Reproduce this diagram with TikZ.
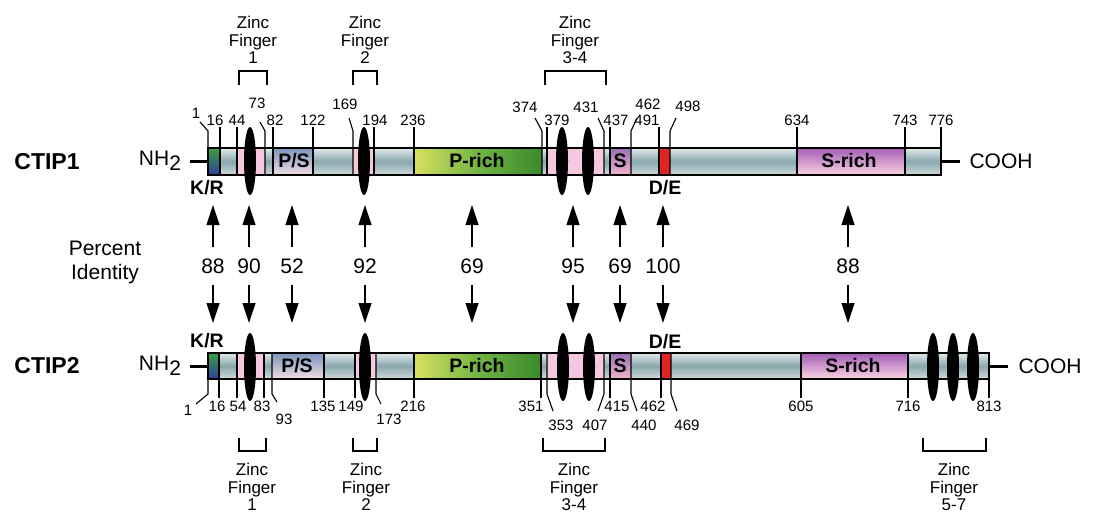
\documentclass[tikz,border=0pt]{standalone}
\usepackage{fontspec}
\setmainfont{Liberation Sans}
\usetikzlibrary{arrows.meta,shapes.geometric}

\definecolor{bartop}{HTML}{E2EAEB}
\definecolor{barmid}{HTML}{89A7AC}
\definecolor{barbot}{HTML}{CFDBDD}
\definecolor{zfpink}{HTML}{F6C8DF}
\definecolor{pstop}{HTML}{7B94BC}
\definecolor{psbot}{HTML}{F2DCE6}
\definecolor{sboxtop}{HTML}{9670B4}
\definecolor{sboxbot}{HTML}{F3B4CE}
\definecolor{srtop}{HTML}{A45DB6}
\definecolor{srbot}{HTML}{FBD3E2}
\definecolor{prleft}{HTML}{D8E060}
\definecolor{prmid}{HTML}{72B444}
\definecolor{prright}{HTML}{3A8A2C}
\definecolor{krtop}{HTML}{38A040}
\definecolor{krbot}{HTML}{2C3F9E}
\definecolor{dered}{HTML}{E32424}

\begin{document}
\begin{tikzpicture}[x=1pt,y=-1pt,
    tick/.style={line width=1.1pt},
    num/.style={font=\fontsize{15}{15}\selectfont,inner sep=0pt},
    dom/.style={font=\fontsize{19.5}{20}\selectfont\bfseries,inner sep=0pt},
    pid/.style={font=\fontsize{21}{24}\selectfont,inner sep=0pt,align=center},
    zftext/.style={font=\fontsize{17}{17.5}\selectfont,inner sep=0pt,align=center},
    zf/.style={ellipse,fill=black,minimum width=12pt,minimum height=68pt,inner sep=0pt},
    idarrow/.style={line width=1.2pt,-{Triangle[length=20pt,width=13pt]},shorten <=11pt},
    greybar/.style={top color=bartop,bottom color=barbot,middle color=barmid},
    psbox/.style={top color=pstop,bottom color=psbot},
    sbox/.style={top color=sboxtop,bottom color=sboxbot},
    srich/.style={top color=srtop,bottom color=srbot},
    prich/.style={left color=prleft,right color=prright,middle color=prmid},
    krbox/.style={top color=krtop,bottom color=krbot}]
\useasboundingbox (0,0) rectangle (1094,514);

\node[font=\fontsize{23}{23}\selectfont\bfseries] (ctip1) at (47,162) {CTIP1};
\node[font=\fontsize{23}{23}\selectfont\bfseries] (ctip2) at (47,366) {CTIP2};
\node[font=\fontsize{21}{21}\selectfont] (nh1) at (160,161) {NH\raisebox{-0.45ex}{2}};
\node[font=\fontsize{21}{21}\selectfont] (nh2) at (160,366) {NH\raisebox{-0.45ex}{2}};
\node[font=\fontsize{21}{21}\selectfont] (cooh1) at (1001,161) {COOH};
\node[font=\fontsize{21}{21}\selectfont] (cooh2) at (1050,366) {COOH};
\draw[line width=3pt] (190,161) -- (208,161);
\draw[line width=3pt] (941,161) -- (960,161);
\draw[line width=3pt] (190,366) -- (208,366);
\draw[line width=3pt] (989,366) -- (1008,366);

\shade[greybar] (208,148) rectangle (941,175);
\shade[krbox] (208,148) rectangle (220,175);
\fill[zfpink] (237,148) rectangle (265,175);
\shade[psbox] (273,148) rectangle (313,175);
\fill[zfpink] (353,148) rectangle (374,175);
\shade[prich] (414,148) rectangle (542,175);
\fill[zfpink] (547,148) rectangle (604,175);
\shade[sbox] (610,148) rectangle (631,175);
\fill[dered] (659,148) rectangle (670,175);
\shade[srich] (797,148) rectangle (905,175);
\draw[line width=1.6pt] (208,148) rectangle (941,175);

\foreach \x/\lx/\t in {220/215/16,237/237/44,273/275/82,313/313/122,374/375/194,414/413/236,547/557/379,
    610/616/437,659/647/491,797/797/634,905/905/743,941/941/776}{
  \draw[tick] (\x,175) -- (\x,127);
  \node[num,above] (u\t) at (\lx,126) {\t};
}
\foreach \x/\e/\ey/\lx/\ly/\t in {208/200/122/196/113/1,265/260/122/257/103/73,353/349/118/345/104/169,
    542/535/118/525/107/374,604/598/118/586/107/431,631/637/118/648/104/462,670/676/118/688/106/498}{
  \draw[tick] (\x,175) -- (\x,131) -- (\e,\ey);
  \node[num] (u\t) at (\lx,\ly) {\t};
}

\node[zf] (za1) at (250,161) {};
\node[zf] (za2) at (364,161) {};
\node[zf] (za3) at (562,161) {};
\node[zf] (za4) at (588,161) {};

\node[dom] (ps1) at (294,161) {P/S};
\node[dom] (pr1) at (477,161) {P-rich};
\node[dom] (s1) at (620,161) {S};
\node[dom] (sr1) at (849,161) {S-rich};
\node[dom] (kr1) at (207,188) {K/R};
\node[dom] (de1) at (665,188) {D/E};

\shade[greybar] (208,353) rectangle (989,379);
\shade[krbox] (208,353) rectangle (219,379);
\fill[zfpink] (237,353) rectangle (264,379);
\shade[psbox] (272,353) rectangle (324,379);
\fill[zfpink] (355,353) rectangle (376,379);
\shade[prich] (414,353) rectangle (541,379);
\fill[zfpink] (547,353) rectangle (604,379);
\shade[sbox] (610,353) rectangle (631,379);
\fill[dered] (661,353) rectangle (671,379);
\shade[srich] (801,353) rectangle (908,379);
\draw[line width=1.6pt] (208,353) rectangle (989,379);

\foreach \x/\lx/\t in {219/217/16,237/238/54,264/262/83,324/323/135,355/351/149,414/413/216,
    541/531/351,610/617/415,661/653/462,801/801/605,908/908/716,989/989/813}{
  \draw[tick] (\x,353) -- (\x,398);
  \node[num,below] (l\t) at (\lx,401) {\t};
}
\foreach \x/\e/\ey/\lx/\ly/\t in {208/196/404/188/410/1,272/277/402/284/419/93,376/381/404/389/419/173,
    547/553/411/561/425/353,604/598/411/595/425/407,631/637/411/644/425/440,671/677/411/687/425/469}{
  \draw[tick] (\x,353) -- (\x,394) -- (\e,\ey);
  \node[num] (l\t) at (\lx,\ly) {\t};
}

\node[zf] (zb1) at (250,367) {};
\node[zf] (zb2) at (365,367) {};
\node[zf] (zb3) at (563,367) {};
\node[zf] (zb4) at (589,367) {};
\node[zf] (zb5) at (933,367) {};
\node[zf] (zb6) at (953,367) {};
\node[zf] (zb7) at (973,367) {};

\node[dom] (ps2) at (297,366) {P/S};
\node[dom] (pr2) at (477,366) {P-rich};
\node[dom] (s2) at (620,366) {S};
\node[dom] (sr2) at (853,366) {S-rich};
\node[dom] (kr2) at (207,341) {K/R};
\node[dom] (de2) at (665,342) {D/E};

\node[zftext] (zft1) at (253,40) {Zinc\\Finger\\1};
\node[zftext] (zft2) at (365,40) {Zinc\\Finger\\2};
\node[zftext] (zft3) at (575,40) {Zinc\\Finger\\3-4};
\draw[tick] (239,85) -- (239,71) -- (267,71) -- (267,85);
\draw[tick] (353,85) -- (353,71) -- (377,71) -- (377,85);
\draw[tick] (545,85) -- (545,71) -- (606,71) -- (606,85);

\node[zftext] (zfb1) at (252,487) {Zinc\\Finger\\1};
\node[zftext] (zfb2) at (366,487) {Zinc\\Finger\\2};
\node[zftext] (zfb3) at (574,487) {Zinc\\Finger\\3-4};
\node[zftext] (zfb4) at (954,487) {Zinc\\Finger\\5-7};
\draw[tick] (239,438) -- (239,451) -- (266,451) -- (266,438);
\draw[tick] (353,438) -- (353,451) -- (377,451) -- (377,438);
\draw[tick] (543,438) -- (543,451) -- (605,451) -- (605,438);
\draw[tick] (923,438) -- (923,451) -- (986,451) -- (986,438);

\node[pid] (pct) at (105,262) {Percent\\Identity};
\foreach \x/\v [count=\i] in {213/88,249/90,292/52,365/92,472/69,573/95,620/69,663/100,848/88}{
  \node[pid] (id\i) at (\x,266) {\v};
  \coordinate (up\i) at (\x,205);
  \coordinate (dn\i) at (\x,323);
  \draw[idarrow] (id\i) -- (up\i);
  \draw[idarrow] (id\i) -- (dn\i);
}
\end{tikzpicture}
\end{document}
